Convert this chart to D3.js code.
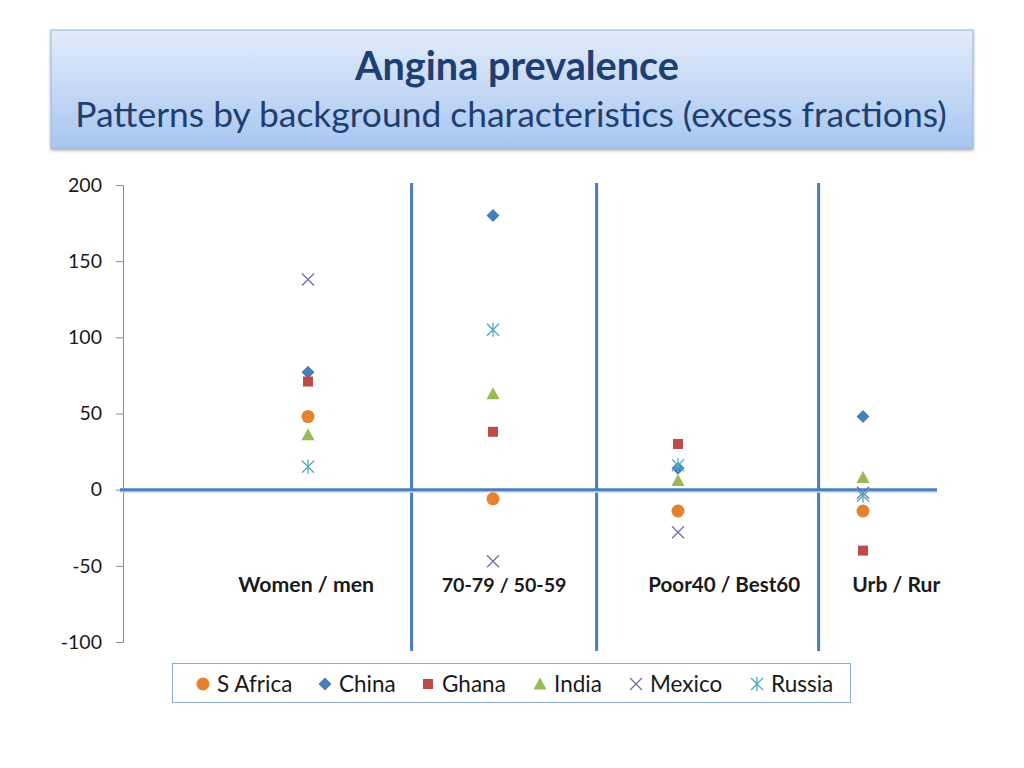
<!DOCTYPE html>
<html>
<head>
<meta charset="utf-8">
<script src="https://cdn.jsdelivr.net/npm/d3@7"></script>
<style>
  body { margin: 0; background: #fff; }
  text { font-family: Lato, "Liberation Sans", sans-serif; }
</style>
</head>
<body>
<script>

// data
const categories = ["Women / men", "70-79 / 50-59", "Poor40 / Best60", "Urb / Rur"];
const countries  = ["S Africa", "China", "Ghana", "India", "Mexico", "Russia"];
const sAfrica = [48, -6, -14, -14];
const china   = [77, 180, 14, 48];
const ghana   = [71, 38, 30, -40];
const india   = [36, 63, 6, 8];
const mexico  = [138, -47, -28, -2];
const russia  = [15, 105, 16, -4];
const yTicks  = [-100, -50, 0, 50, 100, 150, 200];

const series = [sAfrica, china, ghana, india, mexico, russia];

// layout
const W = 1024, H = 768;
const colors = ["#E6812F", "#4A7EBB", "#BE4B48", "#98B954", "#7E69A6", "#4BACC6"];
const sepX = [1.56, 2.56, 3.76];          // vertical divider positions (x units)
const labelX = [0.99, 2.06, 3.25, 4.18];  // category label centres (x units)
const labelW = [136, 125, 152, 88];       // category label widths (px)

const svg = d3.select("body").append("svg")
  .attr("width", W).attr("height", H);

const defs = svg.append("defs");
const grad = defs.append("linearGradient").attr("id", "tg")
  .attr("x1", 0).attr("y1", 0).attr("x2", 0).attr("y2", 1);
grad.append("stop").attr("offset", "0%").attr("stop-color", "#e2ecfb");
grad.append("stop").attr("offset", "100%").attr("stop-color", "#a8c6f1");
const sh = defs.append("filter").attr("id", "sh").attr("x", "-5%").attr("y", "-10%")
  .attr("width", "110%").attr("height", "130%");
sh.append("feDropShadow").attr("dx", 0).attr("dy", 2).attr("stdDeviation", 1.5)
  .attr("flood-color", "#000").attr("flood-opacity", 0.35);

// title box
svg.append("rect")
  .attr("x", 51).attr("y", 30).attr("width", 922).attr("height", 118)
  .attr("fill", "url(#tg)").attr("stroke", "#98b5e0").attr("stroke-width", 1)
  .attr("filter", "url(#sh)");

function fitText(sel, target) {
  const w = sel.node().getComputedTextLength();
  const fs = parseFloat(sel.attr("font-size"));
  sel.attr("font-size", fs * target / w);
}

const t1 = svg.append("text").attr("x", 517).attr("y", 80)
  .attr("text-anchor", "middle").attr("font-size", 34).attr("font-weight", "bold")
  .attr("fill", "#1f3f6f").text("Angina prevalence");
fitText(t1, 324);
const t2 = svg.append("text").attr("x", 511).attr("y", 127)
  .attr("text-anchor", "middle").attr("font-size", 32)
  .attr("fill", "#1f3f6f").text("Patterns by background characteristics (excess fractions)");
fitText(t2, 872);

// scales
const x = d3.scaleLinear().domain([0, 4.5]).range([123, 955.5]);
const y = d3.scaleLinear().domain([-100, 200]).range([642, 185]);

// y axis
const yAxis = svg.append("g")
  .attr("transform", `translate(${x(0)},0)`)
  .call(d3.axisLeft(y).tickValues(yTicks).tickFormat(d => String(d))
    .tickSize(7).tickPadding(14).tickSizeOuter(0));
yAxis.select(".domain").attr("stroke", "#8a8a8a");
yAxis.selectAll(".tick line").attr("stroke", "#8a8a8a");
yAxis.selectAll(".tick text").attr("font-size", 19.5).attr("fill", "#1a1a1a")
  .attr("font-family", "Lato, sans-serif");

// dividers
svg.selectAll(".sep").data(sepX).enter().append("line")
  .attr("x1", d => x(d)).attr("x2", d => x(d))
  .attr("y1", 183).attr("y2", 651)
  .attr("stroke", "#4A7EBB").attr("stroke-width", 3);

// zero line
svg.append("line")
  .attr("x1", x(0) - 3).attr("x2", x(4.4))
  .attr("y1", y(0) + 1.5).attr("y2", y(0) + 1.5)
  .attr("stroke", "#c8d4e6").attr("stroke-width", 3);
svg.append("line")
  .attr("x1", x(0) - 3).attr("x2", x(4.4))
  .attr("y1", y(0)).attr("y2", y(0))
  .attr("stroke", "#4A7EBB").attr("stroke-width", 3);

// category labels
svg.selectAll(".cat").data(categories).enter().append("text")
  .attr("x", (d, i) => x(labelX[i]))
  .attr("y", 592).attr("text-anchor", "middle")
  .attr("font-size", 19).attr("font-weight", "bold").attr("fill", "#1a1a1a")
  .text(d => d)
  .each(function(d, i) { fitText(d3.select(this), labelW[i]); });

// markers
function marker(g, k, c) {
  if (k === 0) g.append("circle").attr("r", 6.5).attr("fill", c);
  else if (k === 1) g.append("path").attr("d", "M0,-6.5L6.5,0L0,6.5L-6.5,0Z").attr("fill", c);
  else if (k === 2) g.append("rect").attr("x", -5).attr("y", -5).attr("width", 10).attr("height", 10).attr("fill", c);
  else if (k === 3) g.append("path").attr("d", "M0,-6.5L6.5,5.5L-6.5,5.5Z").attr("fill", c);
  else if (k === 4) g.append("path").attr("d", "M-6,-6L6,6M-6,6L6,-6").attr("stroke", c).attr("stroke-width", 1.3).attr("fill", "none");
  else g.append("path").attr("d", "M-6,-6L6,6M-6,6L6,-6M0,-7L0,7").attr("stroke", c).attr("stroke-width", 1.3).attr("fill", "none");
}

series.forEach((vals, k) => {
  vals.forEach((v, i) => {
    const g = svg.append("g").attr("transform", `translate(${x(i + 1)},${y(v)})`);
    marker(g, k, colors[k]);
  });
});

// legend
svg.append("rect").attr("x", 172.5).attr("y", 663.5).attr("width", 678).attr("height", 39)
  .attr("fill", "#fff").attr("stroke", "#8eaad6");
const legX = [203, 325, 428, 540, 636, 757];
countries.forEach((c, k) => {
  const g = svg.append("g").attr("transform", `translate(${legX[k]},684)`);
  marker(g, k, colors[k]);
  svg.append("text").attr("x", legX[k] + 14).attr("y", 692)
    .attr("font-size", 22.5).attr("fill", "#1a1a1a").text(c);
});

</script>
</body>
</html>
